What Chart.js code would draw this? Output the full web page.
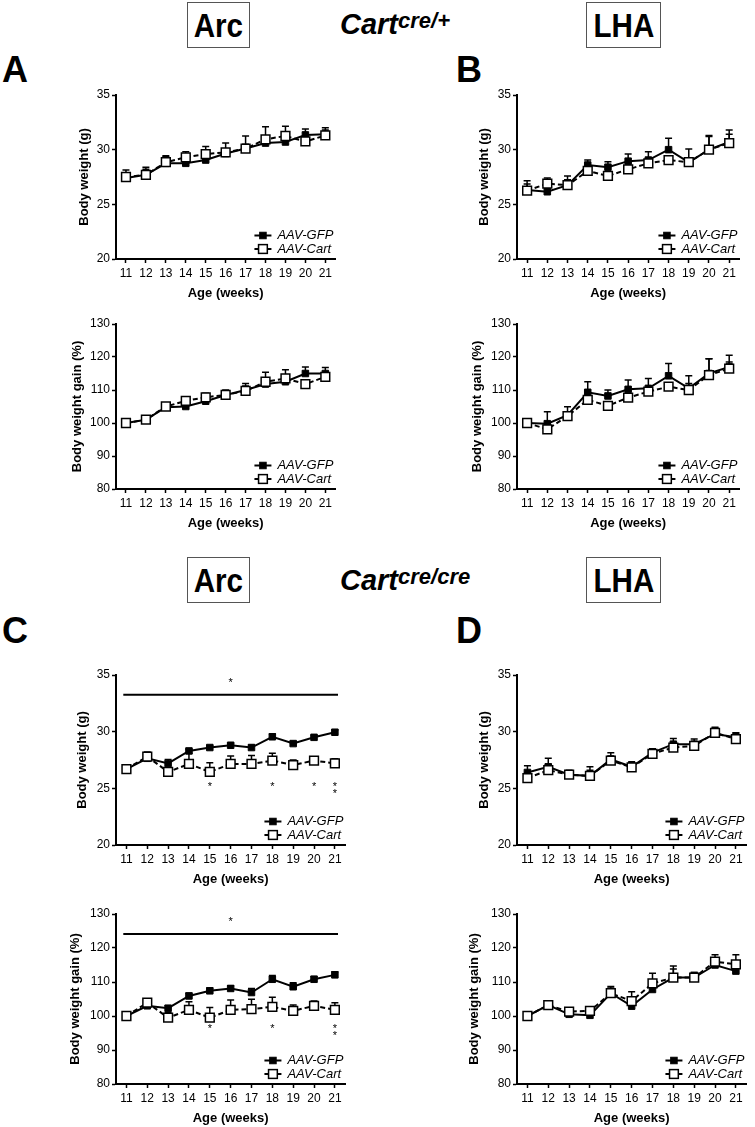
<!DOCTYPE html>
<html>
<head>
<meta charset="utf-8">
<script src="https://cdn.jsdelivr.net/npm/chart.js@4.4.0/dist/chart.umd.min.js"></script>
<style>
  html, body { margin: 0; padding: 0; background: #fff; overflow: hidden; }
  #fig { position: relative; width: 755px; height: 1127px; font-family: 'Liberation Sans', Arial, sans-serif; color: #000; }
  #fig canvas { position: absolute; }
  .box { position: absolute; height: 46px; box-sizing: border-box; border: 1.5px solid #555;
         text-align: center; font: bold 34px/45px 'Liberation Sans', Arial, sans-serif; overflow: visible; }
  .box span { display: inline-block; transform: scaleX(0.87); }
  .geno { position: absolute; font: italic bold 29px/29px 'Liberation Sans', Arial, sans-serif; white-space: nowrap; }
  .geno sup { font-size: 22px; line-height: 0; vertical-align: 6px; }
  .letter { position: absolute; font: bold 36px/36px 'Liberation Sans', Arial, sans-serif; }
</style>
</head>
<body>
<div id="fig">
  <div class="box" style="left:187px;top:2px;width:63px"><span>Arc</span></div>
  <div class="geno" style="left:340px;top:10px">Cart<sup>cre/+</sup></div>
  <div class="box" style="left:586px;top:2px;width:75px"><span>LHA</span></div>
  <div class="letter" style="left:2px;top:52px">A</div>
  <div class="letter" style="left:456px;top:52px">B</div>

  <div class="box" style="left:187px;top:557px;width:63px"><span>Arc</span></div>
  <div class="geno" style="left:340px;top:566px">Cart<sup>cre/cre</sup></div>
  <div class="box" style="left:586px;top:557px;width:75px"><span>LHA</span></div>
  <div class="letter" style="left:2px;top:613px">C</div>
  <div class="letter" style="left:456px;top:613px">D</div>
</div>
<script>
Chart.defaults.font.family = "'Liberation Sans', Arial, sans-serif";
Chart.defaults.color = '#000';

const weeks = ['11', '12', '13', '14', '15', '16', '17', '18', '19', '20', '21'];

// A: Cart cre/+, Arc
const arcHetWeightGfp = [27.4, 27.7, 28.75, 28.75, 29.05, 29.65, 30.1, 30.6, 30.7, 31.35, 31.4];
const arcHetWeightGfpErr = [0.4, 0.5, 0.6, 0.3, 0.4, 0.3, 0.4, 0.4, 0.3, 0.55, 0.6];
const arcHetWeightCart = [27.5, 27.7, 28.85, 29.3, 29.6, 29.75, 30.1, 30.95, 31.25, 30.75, 31.3];
const arcHetWeightCartErr = [0.65, 0.7, 0.6, 0.5, 0.7, 0.85, 1.15, 1.15, 0.9, 0.4, 0.5];

const arcHetGainGfp = [100, 101, 104.8, 105, 106.6, 108.5, 110, 111.8, 112.5, 115, 115];
const arcHetGainGfpErr = [0, 0.5, 1, 0.5, 0.6, 0.8, 2, 1, 1, 2, 1.8];
const arcHetGainCart = [100, 101, 105, 106.7, 107.8, 108.5, 109.7, 112.5, 113.5, 111.8, 114];
const arcHetGainCartErr = [0, 0.5, 1, 0.6, 1.2, 1.5, 1.5, 2.9, 2.6, 1, 1.2];

// B: Cart cre/+, LHA
const lhaHetWeightGfp = [26.3, 26.15, 26.75, 28.6, 28.4, 28.95, 29.05, 30.0, 28.85, 30.0, 30.7];
const lhaHetWeightGfpErr = [0.85, 0.3, 0.5, 0.45, 0.5, 0.65, 0.75, 1.05, 0.4, 1.3, 1.1];
const lhaHetWeightCart = [26.25, 26.9, 26.75, 28.05, 27.6, 28.2, 28.75, 29.05, 28.85, 30.0, 30.6];
const lhaHetWeightCartErr = [0.6, 0.5, 0.85, 0.4, 0.3, 0.3, 0.4, 0.4, 1.2, 1.2, 0.8];

const lhaHetGainGfp = [100, 99.8, 102.4, 109.3, 108.2, 110.2, 110.5, 114.3, 110.5, 115, 117];
const lhaHetGainGfpErr = [0, 3.6, 2.5, 3.2, 1.8, 2.8, 3, 3.7, 1.5, 4.5, 3.5];
const lhaHetGainCart = [100, 98.1, 102.1, 107, 105.2, 107.7, 109.5, 111, 110, 114.5, 116.5];
const lhaHetGainCartErr = [0, 1, 1, 1, 0.8, 1, 1, 1, 4.3, 5, 2];

// C: Cart cre/cre, Arc
const arcHomWeightGfp = [26.7, 27.65, 27.2, 28.3, 28.6, 28.8, 28.6, 29.55, 28.95, 29.5, 29.95];
const arcHomWeightGfpErr = [0.15, 0.3, 0.35, 0.15, 0.15, 0.15, 0.2, 0.25, 0.15, 0.15, 0.2];
const arcHomWeightCart = [26.7, 27.8, 26.45, 27.15, 26.45, 27.15, 27.15, 27.45, 27.05, 27.45, 27.2];
const arcHomWeightCartErr = [0.15, 0.4, 0.3, 0.95, 0.8, 0.7, 0.75, 0.65, 0.45, 0.3, 0.4];

const arcHomGainGfp = [100, 103, 102.3, 105.9, 107.4, 108.1, 106.9, 110.8, 108.6, 110.8, 112.1];
const arcHomGainGfpErr = [0, 0.6, 0.7, 0.8, 0.8, 0.8, 1.2, 1.1, 1.2, 0.8, 0.9];
const arcHomGainCart = [100, 103.9, 99.5, 101.8, 99.5, 101.8, 102, 102.7, 101.5, 103, 101.8];
const arcHomGainCartErr = [0, 0.8, 1.5, 2.4, 3, 2.9, 2.9, 2.8, 1.7, 1.4, 2.1];

// D: Cart cre/cre, LHA
const lhaHomWeightGfp = [26.4, 26.9, 26.2, 26.1, 27.55, 26.9, 28.15, 28.9, 28.9, 29.8, 29.5];
const lhaHomWeightGfpErr = [0.6, 0.75, 0.3, 0.8, 0.6, 0.45, 0.35, 0.5, 0.45, 0.5, 0.4];
const lhaHomWeightCart = [25.9, 26.6, 26.2, 26.1, 27.45, 26.85, 28.05, 28.6, 28.75, 29.9, 29.35];
const lhaHomWeightCartErr = [0.5, 0.5, 0.4, 0.5, 0.4, 0.4, 0.3, 0.4, 0.35, 0.5, 0.5];

const lhaHomGainGfp = [100, 103.2, 100.5, 100.2, 106.7, 102.9, 107.8, 111.3, 111.3, 115, 113.2];
const lhaHomGainGfpErr = [0, 0.8, 1, 2.2, 2, 1.5, 1.5, 3.4, 1.5, 2, 1.5];
const lhaHomGainCart = [100, 103.2, 101.3, 101.5, 106.7, 104.4, 109.6, 111.3, 111.3, 116, 115.2];
const lhaHomGainCartErr = [0, 0.8, 1, 1, 1.5, 2.7, 3, 2.5, 1.5, 2, 2.8];

// significance marks (panel C): overall bar, and weeks with a difference
const arcHomWeightSig = { bar: 33.25, barStar: 34.3, starAt: 25.1, weeks: ['15', '18', '20', '21'], count: [1, 1, 1, 2] };
const arcHomGainSig = { bar: 124.1, barStar: 127.6, starAt: 96.2, weeks: ['15', '18', '21'], count: [1, 1, 2] };

// draws upward SEM bars under the points
const errorBars = {
  id: 'errorBars',
  beforeDatasetsDraw(chart) {
    const { ctx } = chart;
    const y = chart.scales.y;
    chart.data.datasets.forEach((ds, i) => {
      const meta = chart.getDatasetMeta(i);
      ctx.save();
      ctx.strokeStyle = '#000';
      ctx.lineWidth = 1.5;
      meta.data.forEach((pt, j) => {
        const e = ds.err[j];
        if (!e) return;
        const top = y.getPixelForValue(ds.data[j] + e);
        ctx.beginPath();
        ctx.moveTo(pt.x, pt.y);
        ctx.lineTo(pt.x, top);
        ctx.moveTo(pt.x - 3.5, top);
        ctx.lineTo(pt.x + 3.5, top);
        ctx.stroke();
      });
      ctx.restore();
    });
  }
};

// Prism-like legend in the lower right corner
const prismLegend = {
  id: 'prismLegend',
  afterDraw(chart) {
    const { ctx, chartArea } = chart;
    const items = chart.data.datasets.slice().sort((a, b) => b.order - a.order);
    ctx.save();
    ctx.font = "italic 13px 'Liberation Sans', Arial, sans-serif";
    const w = Math.max(...items.map((d) => ctx.measureText(d.label).width));
    const tx = chartArea.right - 2 - w;
    items.forEach((d, k) => {
      const yy = chartArea.bottom - (k === 0 ? 23.5 : 10);
      ctx.strokeStyle = '#000';
      ctx.lineWidth = 2;
      ctx.beginPath();
      ctx.moveTo(tx - 23, yy);
      ctx.lineTo(tx - 6, yy);
      ctx.stroke();
      const s = d.pointRadius * Math.SQRT1_2;
      ctx.fillStyle = d.pointBackgroundColor;
      ctx.lineWidth = d.pointBorderWidth;
      ctx.fillRect(tx - 14.5 - s, yy - s, 2 * s, 2 * s);
      ctx.strokeRect(tx - 14.5 - s, yy - s, 2 * s, 2 * s);
      ctx.fillStyle = '#000';
      ctx.textBaseline = 'middle';
      ctx.textAlign = 'left';
      ctx.fillText(d.label, tx, yy);
    });
    ctx.restore();
  }
};

function sigPlugin(sig) {
  return {
    id: 'sigMarks',
    afterDatasetsDraw(chart) {
      if (!sig) return;
      const { ctx } = chart;
      const { x, y } = chart.scales;
      const step = x.getPixelForValue(1) - x.getPixelForValue(0);
      const left = x.getPixelForValue(0) - 0.15 * step;
      const right = x.getPixelForValue(weeks.length - 1) + 0.15 * step;
      const by = y.getPixelForValue(sig.bar);
      ctx.save();
      ctx.strokeStyle = '#000';
      ctx.lineWidth = 2;
      ctx.beginPath();
      ctx.moveTo(left, by);
      ctx.lineTo(right, by);
      ctx.stroke();
      ctx.fillStyle = '#000';
      ctx.font = "11px 'Liberation Sans', Arial, sans-serif";
      ctx.textAlign = 'center';
      ctx.textBaseline = 'middle';
      ctx.fillText('*', (left + right) / 2, y.getPixelForValue(sig.barStar));
      const sy = y.getPixelForValue(sig.starAt);
      sig.weeks.forEach((wk, i) => {
        const px = x.getPixelForValue(weeks.indexOf(wk));
        for (let k = 0; k < sig.count[i]; k++) ctx.fillText('*', px, sy + k * 7);
      });
      ctx.restore();
    }
  };
}

const weightTitle = 'Body weight (g)';
const gainTitle = 'Body weight gain (%)';

const panels = [
  { x0: 116, x1: 341.3, y0: 95, y1: 259, min: 20, max: 35, step: 5, title: weightTitle, titlePad: 17,
    gfp: arcHetWeightGfp, gfpErr: arcHetWeightGfpErr, cart: arcHetWeightCart, cartErr: arcHetWeightCartErr },
  { x0: 116, x1: 341.3, y0: 324, y1: 489, min: 80, max: 130, step: 10, title: gainTitle, titlePad: 10,
    gfp: arcHetGainGfp, gfpErr: arcHetGainGfpErr, cart: arcHetGainCart, cartErr: arcHetGainCartErr },
  { x0: 517, x1: 744.7, y0: 95, y1: 259, min: 20, max: 35, step: 5, title: weightTitle, titlePad: 16,
    gfp: lhaHetWeightGfp, gfpErr: lhaHetWeightGfpErr, cart: lhaHetWeightCart, cartErr: lhaHetWeightCartErr },
  { x0: 517, x1: 744.7, y0: 324, y1: 489, min: 80, max: 130, step: 10, title: gainTitle, titlePad: 9,
    gfp: lhaHetGainGfp, gfpErr: lhaHetGainGfpErr, cart: lhaHetGainCart, cartErr: lhaHetGainCartErr },
  { x0: 116, x1: 351.4, y0: 675, y1: 845, min: 20, max: 35, step: 5, title: weightTitle, titlePad: 15,
    gfp: arcHomWeightGfp, gfpErr: arcHomWeightGfpErr, cart: arcHomWeightCart, cartErr: arcHomWeightCartErr, sig: arcHomWeightSig },
  { x0: 116, x1: 351.4, y0: 914, y1: 1084, min: 80, max: 130, step: 10, title: gainTitle, titlePad: 8,
    gfp: arcHomGainGfp, gfpErr: arcHomGainGfpErr, cart: arcHomGainCart, cartErr: arcHomGainCartErr, sig: arcHomGainSig },
  { x0: 517, x1: 752, y0: 675, y1: 845, min: 20, max: 35, step: 5, title: weightTitle, titlePad: 16,
    gfp: lhaHomWeightGfp, gfpErr: lhaHomWeightGfpErr, cart: lhaHomWeightCart, cartErr: lhaHomWeightCartErr },
  { x0: 517, x1: 752, y0: 914, y1: 1084, min: 80, max: 130, step: 10, title: gainTitle, titlePad: 6,
    gfp: lhaHomGainGfp, gfpErr: lhaHomGainGfpErr, cart: lhaHomGainCart, cartErr: lhaHomGainCartErr }
];

const LEFT = 56, TOP = 12, RIGHT = 2, BOTTOM = 46;

function addChart(p) {
  const canvas = document.createElement('canvas');
  const w = p.x1 - p.x0 + LEFT + RIGHT;
  const h = p.y1 - p.y0 + TOP + BOTTOM;
  canvas.width = Math.round(w);
  canvas.height = Math.round(h);
  canvas.style.left = (p.x0 - LEFT) + 'px';
  canvas.style.top = (p.y0 - TOP) + 'px';
  canvas.style.width = Math.round(w) + 'px';
  canvas.style.height = Math.round(h) + 'px';
  document.getElementById('fig').appendChild(canvas);

  new Chart(canvas.getContext('2d'), {
    type: 'line',
    data: {
      labels: weeks,
      datasets: [
        {
          label: 'AAV-GFP', data: p.gfp, err: p.gfpErr, order: 1,
          borderColor: '#000', borderWidth: 2, fill: false, tension: 0,
          pointStyle: 'rect', pointRadius: 4.6, pointBackgroundColor: '#000',
          pointBorderColor: '#000', pointBorderWidth: 1
        },
        {
          label: 'AAV-Cart', data: p.cart, err: p.cartErr, order: 0,
          borderColor: '#000', borderWidth: 2, borderDash: [5, 3], fill: false, tension: 0,
          pointStyle: 'rect', pointRadius: 6.2, pointBackgroundColor: '#fff',
          pointBorderColor: '#000', pointBorderWidth: 1.5
        }
      ]
    },
    options: {
      responsive: false,
      animation: false,
      events: [],
      layout: { padding: { top: TOP, right: RIGHT, left: 0, bottom: 0 } },
      plugins: { legend: { display: false }, tooltip: { enabled: false } },
      scales: {
        x: {
          type: 'category',
          offset: true,
          afterFit(s) { s.height = BOTTOM; },
          grid: { offset: false, drawOnChartArea: false, drawTicks: true, tickLength: 4, tickColor: '#000', tickWidth: 1.5 },
          border: { color: '#000', width: 2 },
          ticks: { color: '#000', font: { size: 12 }, padding: 3, maxRotation: 0, autoSkip: false },
          title: { display: true, text: 'Age (weeks)', color: '#000', font: { size: 13, weight: 'bold' }, padding: { top: 4, bottom: 4 } }
        },
        y: {
          min: p.min,
          max: p.max,
          afterFit(s) { s.width = LEFT; },
          grid: { drawOnChartArea: false, drawTicks: true, tickLength: 4, tickColor: '#000', tickWidth: 1.5 },
          border: { color: '#000', width: 2 },
          ticks: { color: '#000', font: { size: 12 }, padding: 2, stepSize: p.step },
          title: { display: true, text: p.title, color: '#000', font: { size: 13, weight: 'bold' }, padding: { top: p.titlePad, bottom: 0 } }
        }
      }
    },
    plugins: [errorBars, sigPlugin(p.sig), prismLegend]
  });
}

panels.forEach(addChart);
</script>
</body>
</html>
